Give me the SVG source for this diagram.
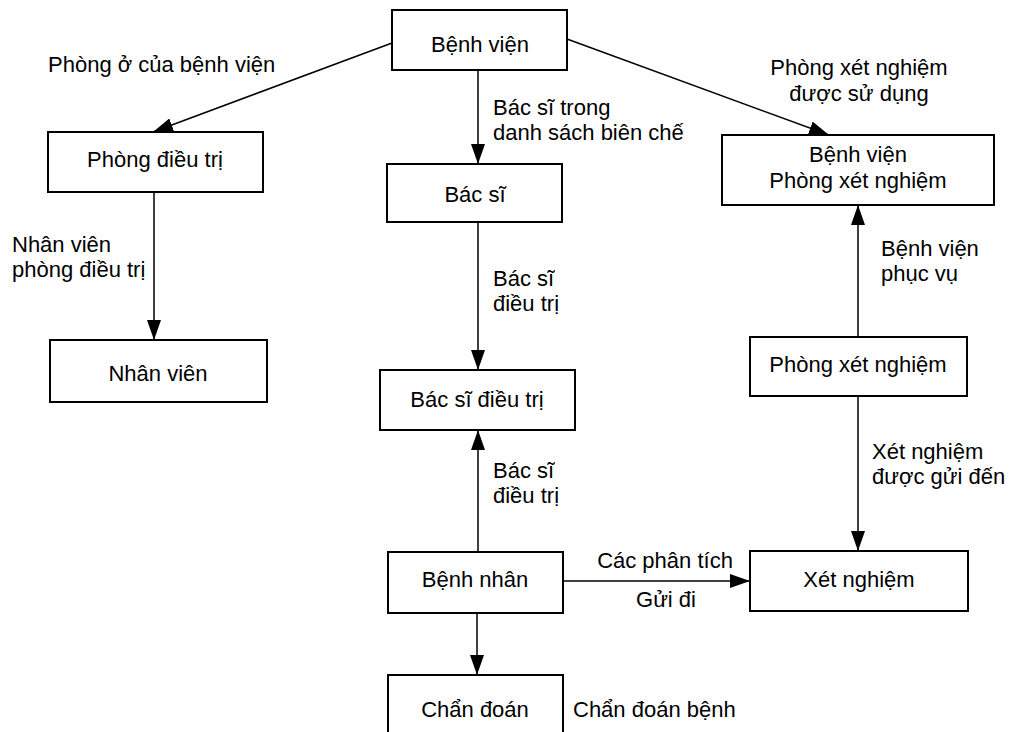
<svg xmlns="http://www.w3.org/2000/svg" width="1010" height="732" viewBox="0 0 1010 732">
<style>
.box{fill:#fff;stroke:#000;stroke-width:2}
.t{font-family:"Liberation Sans",Arial,sans-serif;font-size:22px;fill:#000}
.m{text-anchor:middle}
.c{fill:none;stroke:#000;stroke-width:1.5}
</style>
<defs>
<marker id="ah" markerUnits="userSpaceOnUse" markerWidth="20" markerHeight="14" refX="20" refY="7" orient="auto">
<path d="M0,0 L20,7 L0,14 z" fill="#000"/>
</marker>
</defs>
<rect width="1010" height="732" fill="#fff"/>
<g id="connectors">
<line class="c" x1="392" y1="43" x2="153" y2="132" marker-end="url(#ah)"/>
<line class="c" x1="478" y1="70" x2="478" y2="164" marker-end="url(#ah)"/>
<line class="c" x1="567" y1="39" x2="829" y2="135" marker-end="url(#ah)"/>
<line class="c" x1="154" y1="192" x2="154" y2="340" marker-end="url(#ah)"/>
<line class="c" x1="478" y1="222" x2="478" y2="370" marker-end="url(#ah)"/>
<line class="c" x1="858" y1="337" x2="858" y2="205" marker-end="url(#ah)"/>
<line class="c" x1="858" y1="396" x2="858" y2="551" marker-end="url(#ah)"/>
<line class="c" x1="478" y1="552" x2="478" y2="430" marker-end="url(#ah)"/>
<line class="c" x1="563" y1="581" x2="750" y2="581" marker-end="url(#ah)"/>
<line class="c" x1="477" y1="613" x2="477" y2="675" marker-end="url(#ah)"/>
</g>
<g id="labels">
<text class="t" x="48" y="72">Phòng ở của bệnh viện</text>
<text class="t" x="493" y="115">Bác sĩ trong</text>
<text class="t" x="493" y="140">danh sách biên chế</text>
<text class="t m" x="859" y="75">Phòng xét nghiệm</text>
<text class="t m" x="859" y="101">được sử dụng</text>
<text class="t" x="12" y="252">Nhân viên</text>
<text class="t" x="12" y="277">phòng điều trị</text>
<text class="t" x="493" y="286">Bác sĩ</text>
<text class="t" x="493" y="311">điều trị</text>
<text class="t" x="881" y="256">Bệnh viện</text>
<text class="t" x="881" y="281">phục vụ</text>
<text class="t" x="872" y="459">Xét nghiệm</text>
<text class="t" x="872" y="484">được gửi đến</text>
<text class="t" x="493" y="478">Bác sĩ</text>
<text class="t" x="493" y="503">điều trị</text>
<text class="t m" x="665" y="568">Các phân tích</text>
<text class="t m" x="666" y="607">Gửi đi</text>
<text class="t" x="573" y="717">Chẩn đoán bệnh</text>
</g>
<g id="n-benhvien"><rect class="box" x="392" y="10" width="175" height="60"/><text class="t m" x="480" y="52">Bệnh viện</text></g>
<g id="n-phongdieutri"><rect class="box" x="48" y="132" width="215" height="60"/><text class="t m" x="155" y="167">Phòng điều trị</text></g>
<g id="n-bacsi"><rect class="box" x="387" y="164" width="175" height="58"/><text class="t m" x="475" y="202">Bác sĩ</text></g>
<g id="n-bvpxn"><rect class="box" x="722" y="135" width="272" height="70"/><text class="t m" x="858" y="162">Bệnh viện</text><text class="t m" x="858" y="188">Phòng xét nghiệm</text></g>
<g id="n-nhanvien"><rect class="box" x="50" y="340" width="217" height="62"/><text class="t m" x="158" y="381">Nhân viên</text></g>
<g id="n-bsdieutri"><rect class="box" x="380" y="370" width="195" height="60"/><text class="t m" x="477" y="407">Bác sĩ điều trị</text></g>
<g id="n-pxn"><rect class="box" x="750" y="337" width="217" height="59"/><text class="t m" x="858" y="372">Phòng xét nghiệm</text></g>
<g id="n-benhnhan"><rect class="box" x="388" y="552" width="175" height="61"/><text class="t m" x="475" y="587">Bệnh nhân</text></g>
<g id="n-xetnghiem"><rect class="box" x="750" y="551" width="218" height="60"/><text class="t m" x="859" y="587">Xét nghiệm</text></g>
<g id="n-chandoan"><rect class="box" x="388" y="675" width="175" height="70"/><text class="t m" x="475" y="717">Chẩn đoán</text></g>
</svg>
